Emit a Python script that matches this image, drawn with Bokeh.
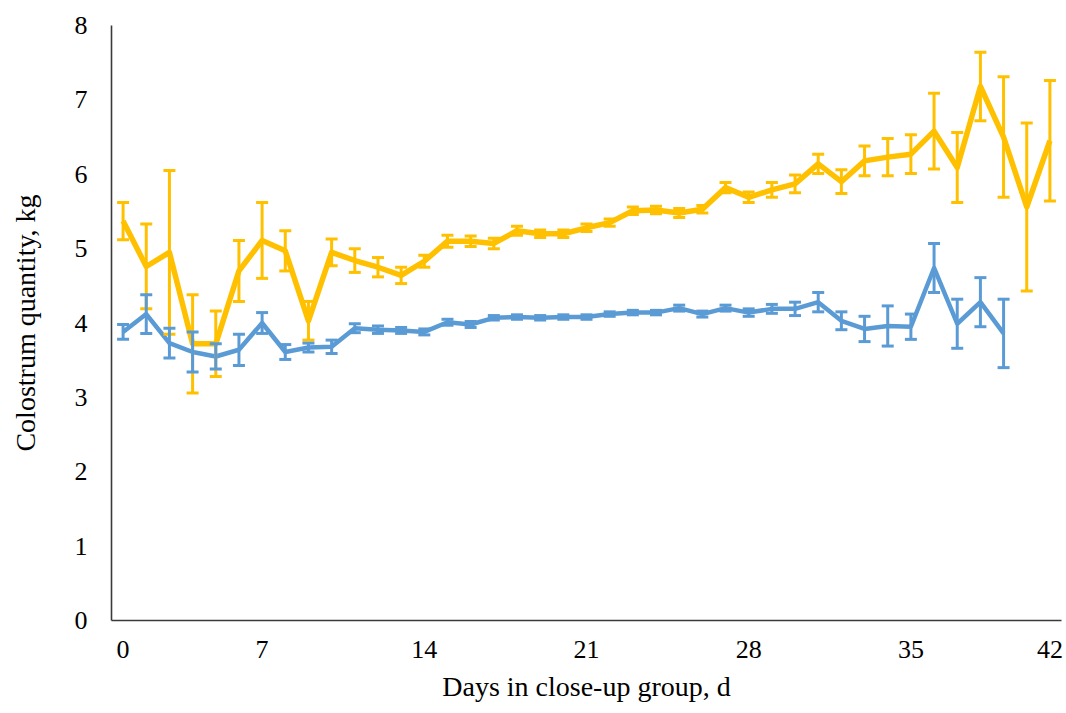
from bokeh.plotting import figure
from bokeh.models import ColumnDataSource, Whisker, Range1d, FixedTicker, TeeHead
from bokeh.embed import file_html
from bokeh.resources import INLINE

# ---- data ----
point_index = list(range(41))
yellow_mean = [5.37, 4.76, 4.95, 3.72, 3.72, 4.70, 5.11, 4.97, 4.03, 4.95, 4.84,
               4.75, 4.64, 4.83, 5.10, 5.10, 5.07, 5.24, 5.20, 5.20, 5.28, 5.35,
               5.51, 5.52, 5.48, 5.53, 5.82, 5.69, 5.79, 5.87, 6.14, 5.90, 6.18,
               6.23, 6.27, 6.58, 6.09, 7.18, 6.50, 5.56, 6.45]
yellow_se = [0.25, 0.57, 1.10, 0.66, 0.44, 0.41, 0.51, 0.27, 0.26, 0.18, 0.16,
             0.13, 0.11, 0.08, 0.08, 0.07, 0.07, 0.06, 0.05, 0.05, 0.05, 0.05,
             0.05, 0.05, 0.06, 0.05, 0.07, 0.07, 0.10, 0.12, 0.13, 0.16, 0.20,
             0.25, 0.26, 0.51, 0.47, 0.46, 0.81, 1.13, 0.81]
blue_mean = [3.88, 4.12, 3.73, 3.61, 3.55, 3.64, 4.00, 3.61, 3.67, 3.68, 3.93,
             3.91, 3.90, 3.88, 4.01, 3.98, 4.07, 4.08, 4.07, 4.08, 4.08, 4.12,
             4.14, 4.14, 4.20, 4.12, 4.20, 4.14, 4.19, 4.19, 4.28, 4.03, 3.92,
             3.96, 3.95, 4.74, 3.99, 4.28, 3.86]
blue_se = [0.10, 0.26, 0.20, 0.27, 0.17, 0.21, 0.14, 0.10, 0.06, 0.09, 0.06,
           0.05, 0.04, 0.04, 0.04, 0.04, 0.03, 0.03, 0.03, 0.03, 0.03, 0.03,
           0.03, 0.03, 0.04, 0.04, 0.04, 0.05, 0.06, 0.09, 0.13, 0.12, 0.17,
           0.27, 0.17, 0.33, 0.33, 0.33, 0.46]
tick_positions = [0, 6, 13, 20, 27, 34, 40]
tick_labels = ["0", "7", "14", "21", "28", "35", "42"]

YELLOW = "#FFC000"
BLUE = "#5B9BD5"
FONT = "Liberation Serif"

ysrc = ColumnDataSource(dict(
    x=point_index[:len(yellow_mean)], y=yellow_mean,
    upper=[m + s for m, s in zip(yellow_mean, yellow_se)],
    lower=[m - s for m, s in zip(yellow_mean, yellow_se)]))
bsrc = ColumnDataSource(dict(
    x=point_index[:len(blue_mean)], y=blue_mean,
    upper=[m + s for m, s in zip(blue_mean, blue_se)],
    lower=[m - s for m, s in zip(blue_mean, blue_se)]))

p = figure(width=1066, height=713, output_backend="svg", toolbar_location=None,
           x_range=Range1d(-0.5, 40.5), y_range=Range1d(0, 8),
           min_border_left=111, min_border_right=5, min_border_top=25,
           min_border_bottom=93)
p.outline_line_color = None
p.xgrid.grid_line_color = None
p.ygrid.grid_line_color = None
p.background_fill_color = "white"
p.border_fill_color = "white"

p.line("x", "y", source=ysrc, line_color=YELLOW, line_width=5.5, line_join="round")
p.line("x", "y", source=bsrc, line_color=BLUE, line_width=4.5, line_join="round")

for src, col in ((ysrc, YELLOW), (bsrc, BLUE)):
    w = Whisker(source=src, base="x", upper="upper", lower="lower",
                line_color=col, line_width=3, level="overlay",
                upper_head=TeeHead(size=12, line_color=col, line_width=3),
                lower_head=TeeHead(size=12, line_color=col, line_width=3))
    p.add_layout(w)

# axes
xa = p.xaxis[0]
xa.ticker = FixedTicker(ticks=tick_positions)
xa.major_label_overrides = {t: l for t, l in zip(tick_positions, tick_labels)}
xa.axis_label = "Days in close-up group, d"
ya = p.yaxis[0]
ya.ticker = FixedTicker(ticks=[0, 1, 2, 3, 4, 5, 6, 7, 8])
ya.axis_label = "Colostrum quantity, kg"

for ax in (xa, ya):
    ax.axis_line_color = "#3a3a3a"
    ax.axis_line_width = 1.6
    ax.major_tick_line_color = None
    ax.minor_tick_line_color = None
    ax.major_tick_out = 0
    ax.major_tick_in = 0
    ax.minor_tick_out = 0
    ax.major_label_text_font = FONT
    ax.major_label_text_font_size = "26px"
    ax.major_label_text_color = "black"
    ax.axis_label_text_font = FONT
    ax.axis_label_text_font_size = "28px"
    ax.axis_label_text_font_style = "normal"
    ax.axis_label_text_color = "black"

xa.major_label_standoff = 20
xa.axis_label_standoff = 10
ya.major_label_standoff = 24
ya.axis_label_standoff = 31

open("out.html", "w").write(file_html(p, INLINE))
